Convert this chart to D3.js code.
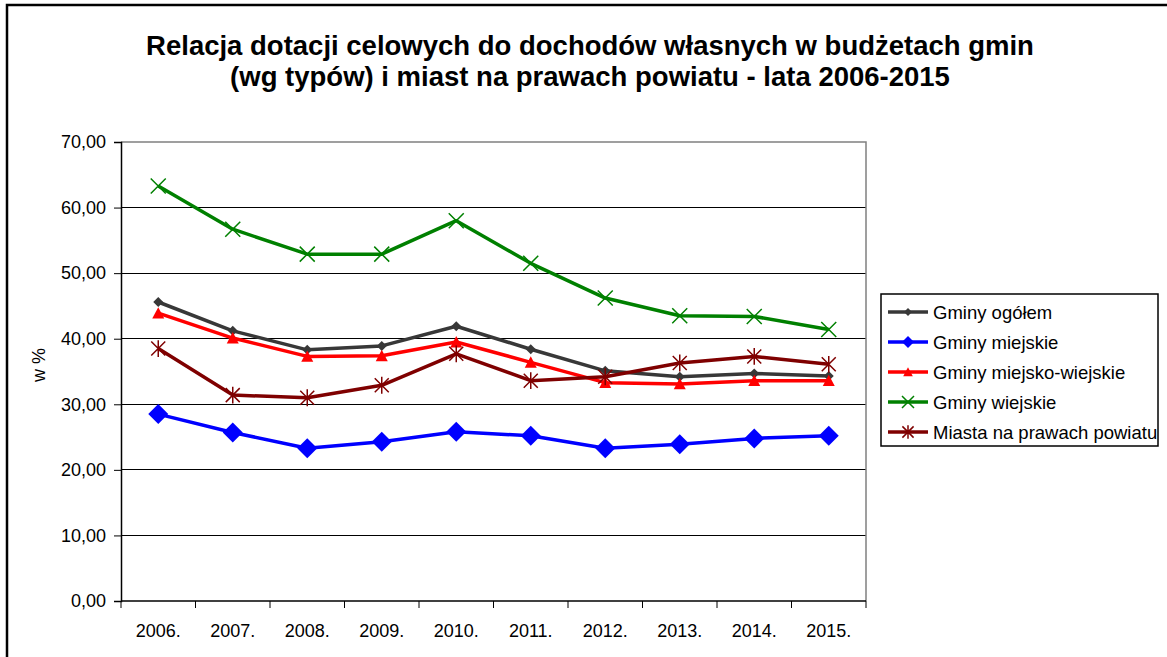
<!DOCTYPE html>
<html>
<head>
<meta charset="utf-8">
<script src="https://cdn.jsdelivr.net/npm/d3@7"></script>
<style>
  html, body { margin: 0; padding: 0; background: #fff; }
  svg { display: block; font-family: "Liberation Sans", Arial, sans-serif; }
</style>
</head>
<body>
<svg id="chart" width="1167" height="657"></svg>
<script>
const years = ["2006.", "2007.", "2008.", "2009.", "2010.", "2011.", "2012.", "2013.", "2014.", "2015."];
const yTicks = [0, 10, 20, 30, 40, 50, 60, 70];
const seriesNames = ["Gminy ogółem", "Gminy miejskie", "Gminy miejsko-wiejskie", "Gminy wiejskie", "Miasta na prawach powiatu"];
const gminyOgolem = [45.6, 41.2, 38.3, 38.9, 41.9, 38.4, 35.1, 34.2, 34.7, 34.3];
const gminyMiejskie = [28.5, 25.7, 23.3, 24.3, 25.8, 25.2, 23.3, 23.9, 24.8, 25.2];
const gminyMiejskoWiejskie = [43.9, 40.1, 37.3, 37.4, 39.5, 36.4, 33.3, 33.1, 33.6, 33.6];
const gminyWiejskie = [63.3, 56.7, 52.9, 52.9, 58.0, 51.5, 46.2, 43.5, 43.4, 41.4];
const miastaNaPrawachPowiatu = [38.5, 31.4, 31.0, 32.9, 37.7, 33.6, 34.2, 36.3, 37.3, 36.1];

const seriesValues = [gminyOgolem, gminyMiejskie, gminyMiejskoWiejskie, gminyWiejskie, miastaNaPrawachPowiatu];
const colors = ["#383838", "#0000ff", "#ff0000", "#008000", "#7f0000"];
const markers = ["diamondSmall", "diamondBig", "triangle", "cross", "star"];

const svg = d3.select("#chart");
const L = 121, R = 866, T = 142, B = 601;

const x = d3.scaleBand().domain(years).range([L, R]).padding(0);
const y = d3.scaleLinear().domain([0, 70]).range([B, T]);

// outer chart border (left & top visible)
svg.append("path")
  .attr("d", `M7,662 L7,5 L1172,5`)
  .attr("fill", "none").attr("stroke", "#000").attr("stroke-width", 2.5);

// title
const title = svg.append("text").attr("text-anchor", "middle")
  .attr("font-weight", "bold").attr("font-size", 27.5).attr("fill", "#000");
title.append("tspan").attr("x", 590).attr("y", 55).text("Relacja dotacji celowych do dochodów własnych w budżetach gmin");
title.append("tspan").attr("x", 590).attr("y", 86).text("(wg typów) i miast na prawach powiatu - lata 2006-2015");

// gridlines
svg.append("g").selectAll("line").data(yTicks.filter(d => d > 0 && d < 70)).join("line")
  .attr("x1", L).attr("x2", R).attr("y1", d => y(d)).attr("y2", d => y(d))
  .attr("stroke", "#000").attr("stroke-width", 1).attr("shape-rendering", "crispEdges");

// plot top & right border (gray)
svg.append("path").attr("d", `M${L},${y(70)} L${R},${y(70)} L${R},${B}`)
  .attr("fill", "none").attr("stroke", "#808080").attr("stroke-width", 1.5);

// y axis
const yAxis = d3.axisLeft(y).tickValues(yTicks).tickSize(7).tickPadding(8)
  .tickFormat(d => d3.format(".2f")(d).replace(".", ","));
const gy = svg.append("g").attr("transform", `translate(${L},0)`).call(yAxis);
gy.select(".domain").attr("stroke", "#000").attr("stroke-width", 1.5);
gy.selectAll(".tick line").attr("stroke", "#000");
gy.selectAll("text").attr("font-size", 18).attr("fill", "#000")
  .style("font-family", "'Liberation Sans', Arial, sans-serif");

// x axis
const gx = svg.append("g").attr("transform", `translate(0,${B})`);
gx.append("line").attr("x1", L).attr("x2", R).attr("y1", 0).attr("y2", 0)
  .attr("stroke", "#000").attr("stroke-width", 1.5);
const boundaries = years.map(d => x(d)).concat([x(years[years.length - 1]) + x.bandwidth()]);
gx.selectAll("line.tk").data(boundaries).join("line").attr("class", "tk")
  .attr("x1", d => d).attr("x2", d => d).attr("y1", 0).attr("y2", 7)
  .attr("stroke", "#000").attr("stroke-width", 1);
gx.selectAll("text").data(years).join("text")
  .attr("x", d => x(d) + x.bandwidth() / 2).attr("y", 36)
  .attr("text-anchor", "middle").attr("font-size", 18).attr("fill", "#000").text(d => d);

// y axis title
svg.append("text").attr("transform", "translate(45,365) rotate(-90)")
  .attr("text-anchor", "middle").attr("font-size", 18).attr("fill", "#000").text("w %");

function drawMarker(g, type, cx, cy, color, scale) {
  const s = scale || 1;
  if (type === "diamondSmall") {
    const r = 5 * s;
    g.append("path").attr("d", `M${cx},${cy - r} L${cx + r},${cy} L${cx},${cy + r} L${cx - r},${cy} Z`).attr("fill", color);
  } else if (type === "diamondBig") {
    const r = 10 * s;
    g.append("path").attr("d", `M${cx},${cy - r} L${cx + r},${cy} L${cx},${cy + r} L${cx - r},${cy} Z`).attr("fill", color);
  } else if (type === "triangle") {
    const r = 6 * s;
    g.append("path").attr("d", `M${cx},${cy - r} L${cx + r},${cy + r * 0.9} L${cx - r},${cy + r * 0.9} Z`).attr("fill", color);
  } else if (type === "cross") {
    const r = 7.5 * s;
    g.append("path").attr("d", `M${cx - r},${cy - r} L${cx + r},${cy + r} M${cx - r},${cy + r} L${cx + r},${cy - r}`)
      .attr("stroke", color).attr("stroke-width", 1.5).attr("fill", "none");
  } else if (type === "star") {
    const r = 7 * s;
    g.append("path").attr("d", `M${cx - r},${cy - r} L${cx + r},${cy + r} M${cx - r},${cy + r} L${cx + r},${cy - r} M${cx},${cy - r * 1.2} L${cx},${cy + r * 1.2}`)
      .attr("stroke", color).attr("stroke-width", 1.5).attr("fill", "none");
  }
}

const line = d3.line().x((d, i) => x(years[i]) + x.bandwidth() / 2).y(d => y(d));
seriesValues.forEach((vals, si) => {
  const g = svg.append("g");
  g.append("path").datum(vals).attr("d", line).attr("fill", "none")
    .attr("stroke", colors[si]).attr("stroke-width", 3.5).attr("stroke-linejoin", "round");
  vals.forEach((v, i) => drawMarker(g, markers[si], x(years[i]) + x.bandwidth() / 2, y(v), colors[si], 1));
});

// legend
const lg = svg.append("g");
lg.append("rect").attr("x", 881).attr("y", 294).attr("width", 277).attr("height", 152)
  .attr("fill", "#fff").attr("stroke", "#000").attr("stroke-width", 1.5);
seriesNames.forEach((name, i) => {
  const cy = 312 + i * 30;
  lg.append("line").attr("x1", 888).attr("x2", 928).attr("y1", cy).attr("y2", cy)
    .attr("stroke", colors[i]).attr("stroke-width", 3.5);
  drawMarker(lg, markers[i], 908, cy, colors[i], i === 1 ? 0.6 : 0.8);
  lg.append("text").attr("x", 933).attr("y", cy + 6.5).attr("font-size", 18.5).attr("fill", "#000").text(name);
});
</script>
</body>
</html>
